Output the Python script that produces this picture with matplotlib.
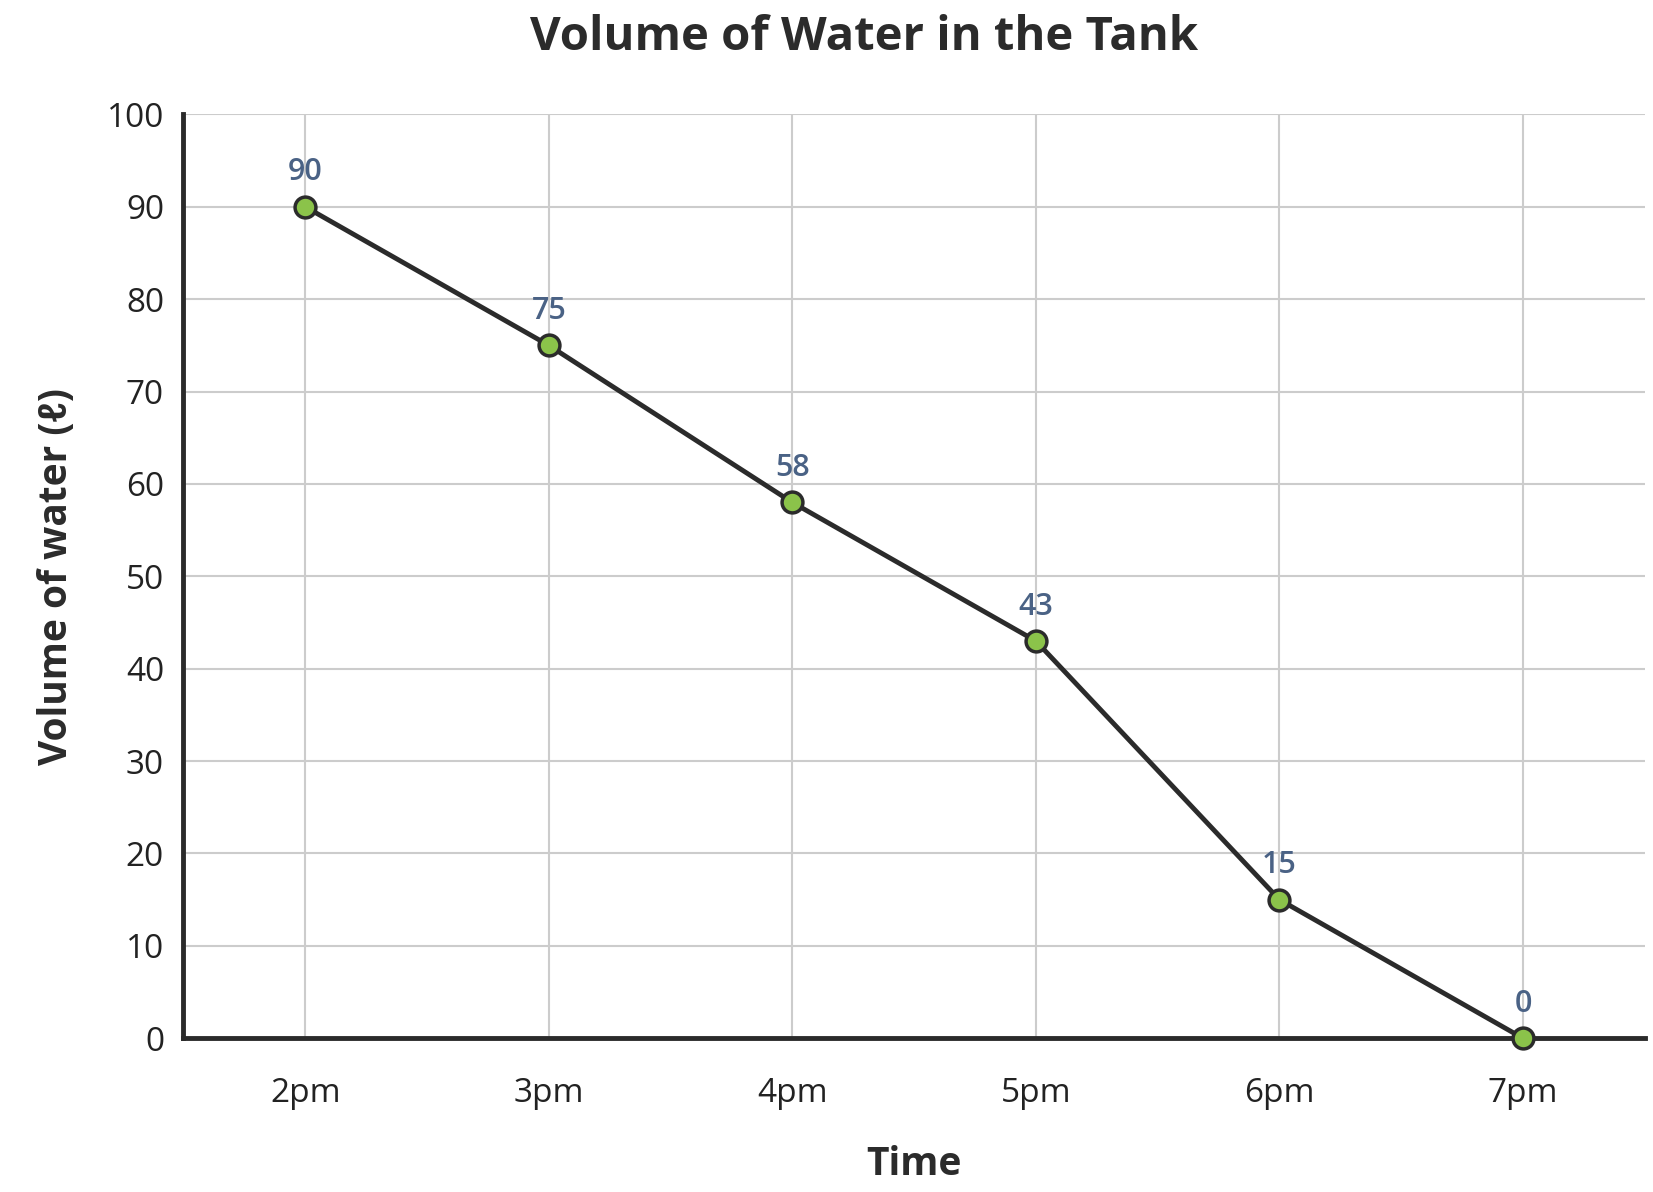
import matplotlib
matplotlib.use("Agg")
import matplotlib.pyplot as plt

plt.rcParams['font.family'] = ['Open Sans', 'DejaVu Sans']

times = ['2pm', '3pm', '4pm', '5pm', '6pm', '7pm']
volumes = [90, 75, 58, 43, 15, 0]

fig = plt.figure(figsize=(16.53, 11.92), dpi=100)
ax = fig.add_axes([0.111, 0.129, 0.884, 0.775])

x = list(range(len(times)))
ax.plot(x, volumes, color='#2b2b2b', lw=3.5, zorder=3,
        marker='o', markersize=15, markerfacecolor='#8bc34a',
        markeredgecolor='#2b2b2b', markeredgewidth=2.5, clip_on=False)
for xi, v in zip(x, volumes):
    ax.annotate(str(v), (xi, v), xytext=(0, 14), textcoords='offset points',
                ha='center', va='bottom', fontsize=22, fontweight='semibold',
                color='#4a6285', zorder=4)

ax.set_xlim(-0.5, 5.5)
ax.set_ylim(0, 100)
ax.set_yticks(range(0, 101, 10))
ax.set_xticks(x)
ax.set_xticklabels(times)
ax.tick_params(axis='both', length=0, labelsize=24, colors='#222222')
ax.tick_params(axis='x', pad=28)
ax.tick_params(axis='y', pad=14)
ax.grid(True, color='#cccccc', lw=1.5)
ax.set_axisbelow(True)
for s in ['top', 'right']:
    ax.spines[s].set_visible(False)
for s in ['left', 'bottom']:
    ax.spines[s].set_color('#2b2b2b')
    ax.spines[s].set_linewidth(3.5)

ax.set_xlabel('Time', fontsize=28, fontweight='bold', color='#2b2b2b', labelpad=25)
ax.set_ylabel('Volume of water (ℓ)', fontsize=28, fontweight='bold', color='#2b2b2b', labelpad=22)
fig.suptitle('Volume of Water in the Tank', fontsize=34, fontweight='bold',
             color='#2b2b2b', x=0.523, y=0.988)

fig.savefig('out.png', dpi=100)
